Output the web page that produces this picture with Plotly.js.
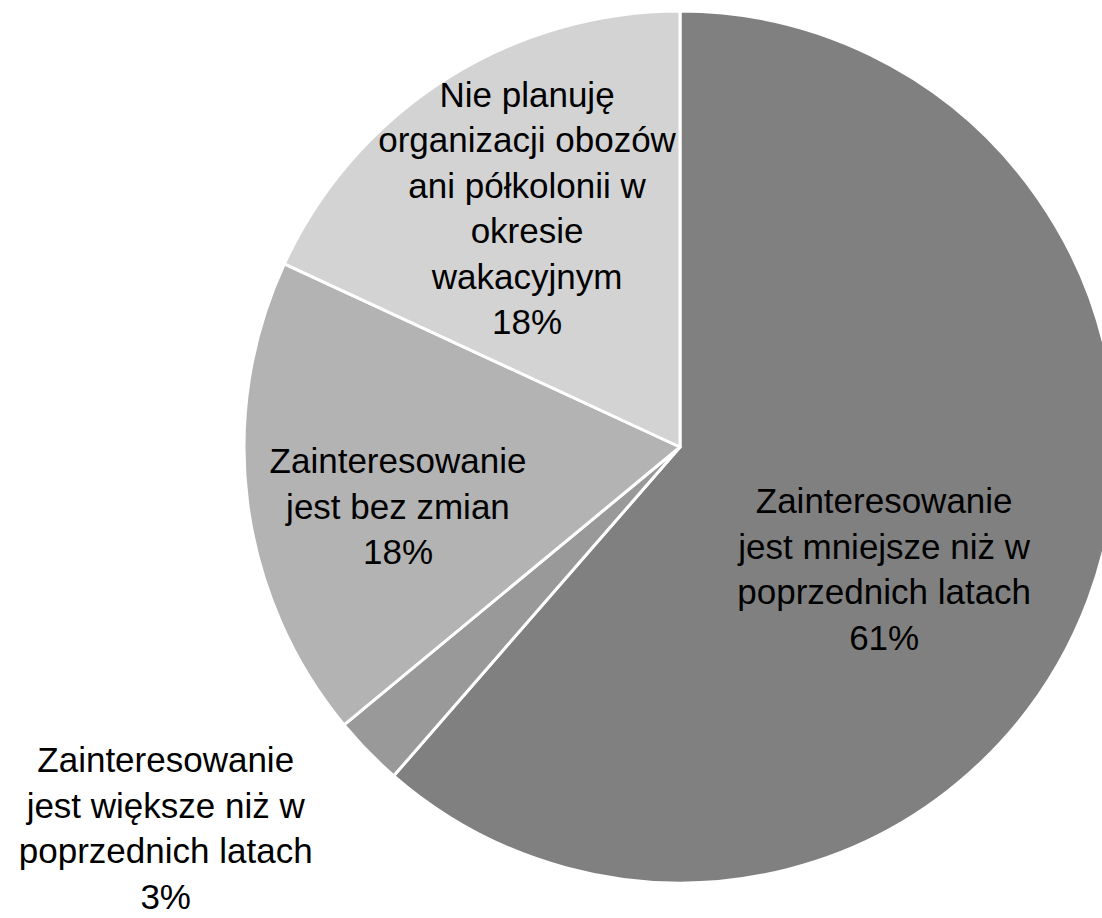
<!DOCTYPE html>
<html>
<head>
<meta charset="utf-8">
<script src="https://cdn.plot.ly/plotly-3.0.1.min.js"></script>
<style>
  html, body { margin: 0; padding: 0; overflow: hidden; background: #fff; }
  #graph { width: 1120px; height: 918px; }
</style>
</head>
<body>
<div id="graph"></div>
<script>
'use strict';

var labels = [
  'Zainteresowanie<br>jest mniejsze niż w<br>poprzednich latach',
  'Zainteresowanie<br>jest większe niż w<br>poprzednich latach',
  'Zainteresowanie<br>jest bez zmian',
  'Nie planuję<br>organizacji obozów<br>ani półkolonii w<br>okresie<br>wakacyjnym'
];
var shares = [61.4, 2.6, 17.9, 18.1];
var sliceColors = ['#808080', '#999999', '#b3b3b3', '#d3d3d3'];
var textPos = ['inside', 'outside', 'inside', 'inside'];

// blank leading lines nudge the labels down, like the Excel layout
var pad = '\u00a0<br>';
var templates = [
  pad + pad + '%{label}<br>%{percent:.0%}',
  pad + '%{label}<br>%{percent:.0%}',
  pad + '%{label}<br>%{percent:.0%}',
  '%{label}<br>%{percent:.0%}'
];

var trace = {
  type: 'pie',
  labels: labels,
  values: shares,
  sort: false,
  direction: 'clockwise',
  rotation: 0,
  marker: { colors: sliceColors, line: { color: '#ffffff', width: 3 } },
  texttemplate: templates,
  textposition: textPos,
  insidetextorientation: 'horizontal',
  textfont: { family: 'Liberation Sans, Arial, sans-serif', size: 35, color: '#000000' },
  hoverinfo: 'none',
  automargin: false,
  domain: { x: [244 / 1120, 1116 / 1120], y: [35 / 918, 907 / 918] }
};

var layout = {
  width: 1120,
  height: 918,
  margin: { l: 0, r: 0, t: 0, b: 0 },
  showlegend: false,
  paper_bgcolor: '#ffffff',
  uniformtext: { minsize: 35, mode: 'show' },
  font: { family: 'Liberation Sans, Arial, sans-serif' }
};

Plotly.newPlot('graph', [trace], layout, { staticPlot: true });
</script>
</body>
</html>
